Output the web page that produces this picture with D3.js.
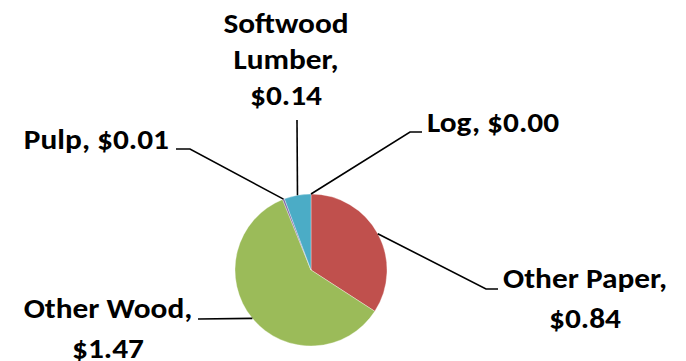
<!DOCTYPE html>
<html>
<head>
<meta charset="utf-8">
<script src="https://cdn.jsdelivr.net/npm/d3@7"></script>
<style>
  html, body { margin: 0; padding: 0; background: #fff; }
  svg { display: block; }
  .lbl { font-family: Carlito, Lato, "Open Sans", sans-serif; font-weight: 700; font-size: 28px; fill: #000; }
</style>
</head>
<body>
<svg id="chart" width="686" height="361"></svg>
<script>
// Revenue by product line (dollars)
const categories = ["Log", "Other Paper", "Other Wood", "Pulp", "Softwood Lumber"];
const values     = [0.00, 0.84, 1.47, 0.01, 0.14];
const colors     = ["#4F81BD", "#C0504D", "#9BBB59", "#8064A2", "#4BACC6"];

// How each data label is broken into lines
const labelLines = [
  ["Log, $0.00"],
  ["Other Paper,", "$0.84"],
  ["Other Wood,", "$1.47"],
  ["Pulp, $0.01"],
  ["Softwood", "Lumber,", "$0.14"]
];

const cx = 311, cy = 270, R = 76;
const textStretch = 1.12;

// Label placement: first baseline, alignment, line step and leader path beyond the rim
const labelLayout = [
  { x: 427, y: 132, anchor: "start",  step: 0,  leader: [[410, 132], [422, 132]] },
  { x: 585, y: 288, anchor: "middle", step: 40, leader: [[486, 289], [498, 289]] },
  { x: 108, y: 318, anchor: "middle", step: 40, leader: [[198, 319]] },
  { x: 169, y: 149, anchor: "end",    step: 0,  leader: [[190, 149], [176, 149]] },
  { x: 286, y: 33,  anchor: "middle", step: 36, leader: [[297, 120]] }
];

const svg = d3.select("#chart");
const g = svg.append("g").attr("transform", `translate(${cx},${cy})`);

const pie = d3.pie().sort(null).value(d => d.value).startAngle(0).endAngle(2 * Math.PI);
const data = categories.map((c, i) => ({ name: c, value: values[i], color: colors[i], lines: labelLines[i], layout: labelLayout[i] }));
const arcs = pie(data);

const arc = d3.arc().innerRadius(0).outerRadius(R);

g.selectAll("path.slice")
  .data(arcs)
  .join("path")
  .attr("class", "slice")
  .attr("d", arc)
  .attr("fill", d => d.data.color)
  .attr("stroke", d => d.value > 0 ? "rgba(255,255,255,0.55)" : "none")
  .attr("stroke-width", 0.6);

// Point on the pie rim at the slice's middle angle (page coordinates)
function rimPoint(d) {
  const a = (d.startAngle + d.endAngle) / 2;
  return [cx + Math.sin(a) * R, cy - Math.cos(a) * R];
}

// Leader lines
const leaders = svg.append("g")
  .attr("fill", "none")
  .attr("stroke", "#000")
  .attr("stroke-width", 1.6);

arcs.forEach(d => {
  leaders.append("path").attr("d", d3.line()([rimPoint(d), ...d.data.layout.leader]));
});

// Data labels
arcs.forEach(d => {
  const L = d.data.layout;
  const t = svg.append("text")
    .attr("class", "lbl")
    .attr("text-anchor", L.anchor)
    .attr("transform", `translate(${L.x},0) scale(${textStretch},1)`);
  d.data.lines.forEach((s, i) => {
    t.append("tspan").attr("x", 0).attr("y", L.y + i * L.step).text(s);
  });
});
</script>
</body>
</html>
